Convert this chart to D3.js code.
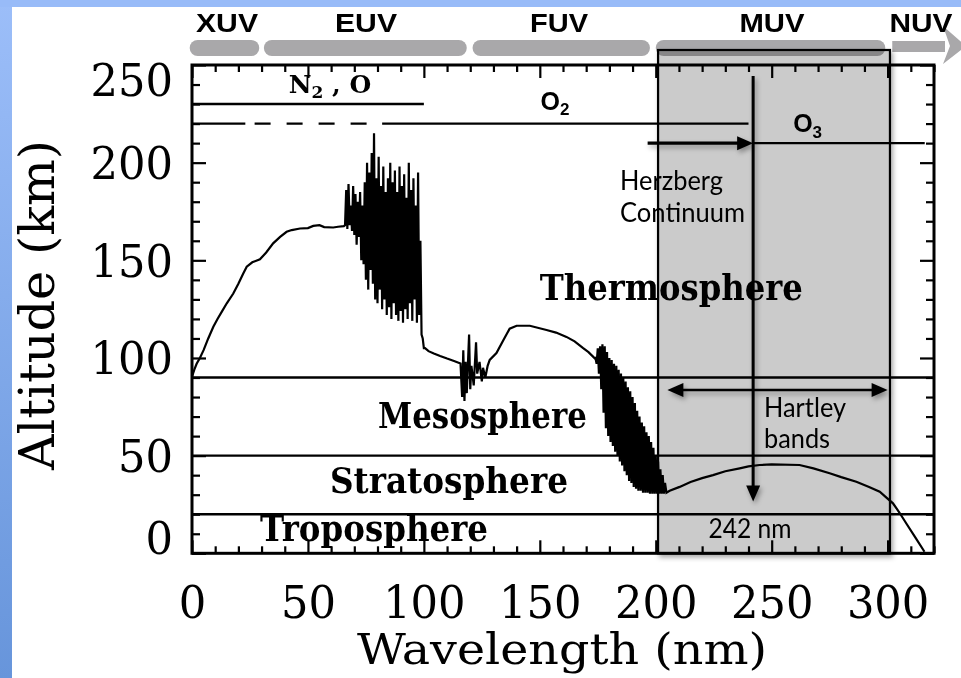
<!DOCTYPE html>
<html><head><meta charset="utf-8">
<script src="https://cdn.jsdelivr.net/npm/d3@7"></script>
<style>body{margin:0;background:#fff}svg{display:block}</style>
</head><body>
<svg id="c" width="961" height="678"></svg>
<script>
// ---- data -------------------------------------------------------------
// UV band names and their wavelength spans (nm)
const bandNames = ["XUV", "EUV", "FUV", "MUV", "NUV"];
const bandFrom  = [-1, 31, 121, 200, 302];
const bandTo    = [29, 118.5, 197.5, 299, 326];

// axis ticks
const xMajor = [0, 50, 100, 150, 200, 250, 300];
const yMajor = [0, 50, 100, 150, 200, 250];

// atmospheric layer boundaries (km) and names
const layerTops  = [90, 50, 20];
const layerNames = ["Thermosphere", "Mesosphere", "Stratosphere", "Troposphere"];

// absorber ranges: altitude (km), start/end wavelength (nm)
const absorbers   = ["N2 , O", "O2", "O3"];
const absorberKm  = [230, 220, 210];
const absorberFrom = [0, 0, 242];
const absorberTo   = [100, 240, 316];
const o2DashedFrom = 23, o2DashedTo = 82;

// Herzberg / Hartley features (nm)
const herzbergNm = 242;
const hartleyFrom = 205, hartleyTo = 300;
const muvBoxFrom = 201, muvBoxTo = 301;

// altitude of unit optical depth vs wavelength [nm, km]
const profileRise = [[0,90.5],[1,94],[2,97],[3.4,100],[5,104],[7,110],[9.2,116],[11,120],[13,124],[15,128],
  [17.8,133],[20,138],[22,143],[23.6,146.7],[26,149],[29.3,150.5],[32,154],[35,158.7],[38,162],[40.8,164.6],
  [43,165.5],[46.6,166.3],[50,166.5],[52.3,167.6],[55,168],[57,167],[60.9,166.8],[63,167.2],[65.5,167.5]];
const profileEUV = [[66,168],[66.5,186],[67,166],[67.5,189],[68,168],[68.5,178],[69,165],[69.5,188],[70,163],
  [70.5,184],[71,158],[71.5,180],[72,162],[72.5,185],[73,150],[73.5,178],[74,148],[74.5,190],[75,140],[75.5,200],
  [76,135],[76.5,195],[77,145],[77.5,205],[78,138],[78.5,215],[79,130],[79.5,192],[80,128],[80.5,203],[81,135],
  [81.5,188],[82,125],[82.5,198],[83,130],[83.5,185],[84,122],[84.5,192],[85,126],[85.5,200],[86,120],[86.5,190],
  [87,128],[87.5,196],[88,122],[88.5,185],[89,119],[89.5,198],[90,124],[90.5,188],[91,118],[91.5,194],[92,125],
  [92.5,182],[93,120],[93.5,200],[94,128],[94.5,186],[95,119],[95.5,192],[96,130],[96.5,178],[97,118],[97.5,195],
  [98,122],[98.5,160],[99,112],[99.5,110],[100,105]];
const profileLyman = [[100.5,105],[102,103.5],[104.3,102.3],[107,101],[110,99.7],[113,98.5],[115.8,97.2],
  [116.5,80],[117,104],[117.5,78],[118,98],[118.5,82],[119.5,112],[120,84],[120.5,96],[121.5,86],[122.5,108],
  [123,92],[124,98],[125,88],[125.5,95],[126.5,90],[127.5,96],[128.4,99],[131.3,102.5],[134.2,109],[137,115],
  [140,116.5],[145.7,116.5],[152.9,114.3],[157,113],[161.5,110.8],[165,108.5],[168.7,105],[171,103],[173.7,99.8]];
const profileSR = [[174,100],[174.5,97],[175,105],[175.5,92],[176,106],[176.5,84],[177,107],[177.5,72],[178,106],
  [178.5,64],[179,103],[179.5,60],[180,100],[180.5,57],[181,99],[181.5,55],[182,97],[182.5,52],[183,96],[183.5,50],
  [184,94],[184.5,47],[185,92],[185.5,45],[186,90],[186.5,42],[187,88],[187.5,40],[188,85],[188.5,37],[189,83],
  [189.5,36],[190,80],[190.5,34],[191,77],[191.5,33],[192,73],[192.5,32],[193,70],[193.5,32],[194,67],[194.5,31],
  [195,65],[195.5,31],[196,62],[196.5,31],[197,60],[197.5,30.5],[198,57],[198.5,30.5],[199,54],[199.5,30.5],
  [200,50],[200.5,30.5],[201,47],[201.5,30.5],[202,43],[202.5,30.5],[203,40],[203.5,30.5],[204,36],[204.6,31]];
const profileHartley = [[206,32],[210.3,34],[215,36.5],[220,38.5],[224.7,40],[230,42],[236.2,43.5],[240,44.5],
  [244.8,45.2],[250,45.5],[262,45.2],[268,43.5],[275,41],[280,39],[286.5,36.6],[292,34],[296.6,31.5],[299,29],
  [302.3,25.6],[305,21],[308,15.4],[312,8],[315.9,0.8]];

// ---- layout -----------------------------------------------------------
const W = 961, H = 678;
const x = d3.scaleLinear().domain([0, 320]).range([192, 934]);
const y = d3.scaleLinear().domain([0, 250]).range([553.3, 65]);
const serif = "'DejaVu Serif', 'Liberation Serif', serif";
const sans = "'Liberation Sans', Arial, sans-serif";
const light = "Lato, 'Open Sans', sans-serif";

const svg = d3.select("#c");
const defs = svg.append("defs");
const grad = defs.append("linearGradient").attr("id", "side")
  .attr("x1", 0).attr("y1", 0).attr("x2", 0).attr("y2", 1);
grad.append("stop").attr("offset", "0%").attr("stop-color", "#9cbef9");
grad.append("stop").attr("offset", "100%").attr("stop-color", "#6795db");
const sh = defs.append("filter").attr("id", "sh")
  .attr("x", "-10%").attr("y", "-10%").attr("width", "130%").attr("height", "130%");
sh.append("feDropShadow").attr("dx", 2).attr("dy", 3).attr("stdDeviation", 2.5)
  .attr("flood-color", "#000").attr("flood-opacity", 0.35);

// slide background
svg.append("rect").attr("width", W).attr("height", H).attr("fill", "#fff");
svg.append("rect").attr("width", 12).attr("height", H).attr("fill", "url(#side)");
svg.append("rect").attr("width", W).attr("height", 7).attr("fill", "#98bbf8");

// MUV shaded box
svg.append("rect")
  .attr("x", x(muvBoxFrom)).attr("y", 50)
  .attr("width", x(muvBoxTo) - x(muvBoxFrom)).attr("height", y(0) - 50)
  .attr("fill", "#cbcbcb").attr("stroke", "#000").attr("stroke-width", 2.2)
  .attr("filter", "url(#sh)");

// band bars
const bands = svg.append("g").style("mix-blend-mode", "multiply");
bandNames.forEach((name, i) => {
  if (name === "NUV") {
    bands.append("rect").attr("x", x(bandFrom[i])).attr("y", 41)
      .attr("width", 945 - x(bandFrom[i])).attr("height", 11).attr("fill", "#a9a8aa");
    bands.append("path").attr("d", "M943,26 L966,46 L943,64 L950,46 Z").attr("fill", "#a9a8aa");
  } else {
    bands.append("rect").attr("x", x(bandFrom[i])).attr("y", 40)
      .attr("width", x(bandTo[i]) - x(bandFrom[i])).attr("height", 16)
      .attr("rx", 8).attr("fill", "#a9a8aa");
  }
});
const bandLabelX = [227, 366, 559, 772, 921];
const bandLabelW = [62, 62, 58, 65, 63];
bandNames.forEach((name, i) => {
  svg.append("text").attr("x", bandLabelX[i]).attr("y", 32)
    .attr("text-anchor", "middle").attr("font-family", sans).attr("font-weight", "bold")
    .attr("font-size", 26).attr("textLength", bandLabelW[i]).attr("lengthAdjust", "spacingAndGlyphs")
    .text(name);
});

// axes (ticks point inward)
const xMinor = d3.range(0, 321, 10).filter(v => v % 50 !== 0);
const yMinor = d3.range(0, 251, 10).filter(v => v % 50 !== 0);
function styleAxis(g) {
  g.select(".domain").remove();
  g.selectAll(".tick line").attr("stroke", "#000").attr("stroke-width", 2.2);
}
const axes = svg.append("g");
[[d3.axisBottom, y(0)], [d3.axisTop, y(250)]].forEach(([fn, pos]) => {
  axes.append("g").attr("transform", `translate(0,${pos})`)
    .call(fn(x).tickValues(xMinor).tickSizeInner(-7).tickSizeOuter(0).tickFormat(""))
    .call(styleAxis);
});
[[d3.axisLeft, x(0)], [d3.axisRight, x(320)]].forEach(([fn, pos]) => {
  axes.append("g").attr("transform", `translate(${pos},0)`)
    .call(fn(y).tickValues(yMinor).tickSizeInner(-8).tickSizeOuter(0).tickFormat(""))
    .call(styleAxis);
});
axes.append("g").attr("transform", `translate(0,${y(250)})`)
  .call(d3.axisTop(x).tickValues(xMajor).tickSizeInner(-13).tickSizeOuter(0).tickFormat(""))
  .call(styleAxis);
axes.append("g").attr("transform", `translate(${x(320)},0)`)
  .call(d3.axisRight(y).tickValues(yMajor).tickSizeInner(-14).tickSizeOuter(0).tickFormat(""))
  .call(styleAxis);
const xAxis = axes.append("g").attr("transform", `translate(0,${y(0)})`)
  .call(d3.axisBottom(x).tickValues(xMajor).tickSizeInner(-13).tickSizeOuter(0).tickPadding(33))
  .call(styleAxis);
const yAxis = axes.append("g").attr("transform", `translate(${x(0)},0)`)
  .call(d3.axisLeft(y).tickValues(yMajor).tickSizeInner(-14).tickSizeOuter(0).tickPadding(19))
  .call(styleAxis);
[xAxis, yAxis].forEach(g => g.selectAll(".tick text")
  .attr("font-family", serif).attr("font-size", 44).attr("fill", "#000")
  .attr("lengthAdjust", "spacingAndGlyphs")
  .attr("textLength", d => String(d).length * 27.5));
// end labels sit a little inside the frame
yAxis.selectAll(".tick text").attr("dy", d => d === 250 ? "0.70em" : d === 0 ? "0em" : "0.36em");

// plot frame
svg.append("rect").attr("x", x(0)).attr("y", y(250))
  .attr("width", x(320) - x(0)).attr("height", y(0) - y(250))
  .attr("fill", "none").attr("stroke", "#000").attr("stroke-width", 3);

// layer boundaries
layerTops.forEach(km => {
  svg.append("line").attr("x1", x(0)).attr("x2", x(320)).attr("y1", y(km)).attr("y2", y(km))
    .attr("stroke", "#000").attr("stroke-width", 2.4);
});

// absorber lines
absorbers.forEach((name, i) => {
  const km = absorberKm[i];
  if (name === "O2") {
    const seg = (a, b, dash) => svg.append("line").attr("x1", x(a)).attr("x2", x(b))
      .attr("y1", y(km)).attr("y2", y(km)).attr("stroke", "#000").attr("stroke-width", 2.4)
      .attr("stroke-dasharray", dash ? "16,16" : null);
    seg(absorberFrom[i], o2DashedFrom, false);
    seg(o2DashedFrom + 4, o2DashedTo, true);
    seg(o2DashedTo, absorberTo[i], false);
  } else {
    svg.append("line").attr("x1", x(absorberFrom[i])).attr("x2", x(absorberTo[i]))
      .attr("y1", y(km)).attr("y2", y(km)).attr("stroke", "#000").attr("stroke-width", 2.4);
  }
});

// absorption-depth profile
const profile = [].concat(profileRise, profileEUV, profileLyman, profileSR, profileHartley);
svg.append("path").datum(profile)
  .attr("d", d3.line().x(d => x(d[0])).y(d => y(d[1])))
  .attr("fill", "none").attr("stroke", "#000").attr("stroke-width", 2.2)
  .attr("stroke-linejoin", "miter");

// absorber labels
function chem(g, base, sub, rest, cx, cy, fam, size) {
  const t = g.append("text").attr("x", cx).attr("y", cy).attr("text-anchor", "middle")
    .attr("font-family", fam).attr("font-weight", "bold").attr("font-size", size);
  t.append("tspan").text(base);
  t.append("tspan").attr("font-size", size * 0.68).attr("dy", size * 0.22).text(sub);
  if (rest) t.append("tspan").attr("dy", -size * 0.22).text(rest);
  return t;
}
chem(svg, "N", "2", " ,  O", x(59.5), y(235.9), serif, 25);
chem(svg, "O", "2", null, x(156.5), y(227), sans, 25);
chem(svg, "O", "3", null, x(265.5), y(215.6), sans, 25);

// arrows
function arrowHead(g, tipX, tipY, dir, len, half) {
  const [dx, dy] = dir;
  const bx = tipX - dx * len, by = tipY - dy * len;
  g.append("path").attr("d",
    `M${tipX},${tipY} L${bx - dy * half},${by + dx * half} L${bx + dy * half},${by - dx * half} Z`)
    .attr("fill", "#000");
}
const arrows = svg.append("g").attr("filter", "url(#sh)");
// 242 nm vertical marker
arrows.append("line").attr("x1", x(herzbergNm)).attr("x2", x(herzbergNm))
  .attr("y1", 76).attr("y2", y(26.5) - 12).attr("stroke", "#000").attr("stroke-width", 3);
arrowHead(arrows, x(herzbergNm), y(26.5), [0, 1], 16, 7);
// Herzberg continuum arrow
arrows.append("line").attr("x1", x(196.5)).attr("x2", x(herzbergNm) - 12)
  .attr("y1", y(210)).attr("y2", y(210)).attr("stroke", "#000").attr("stroke-width", 3.2);
arrowHead(arrows, x(herzbergNm), y(210), [1, 0], 16, 7);
// Hartley bands double arrow
arrows.append("line").attr("x1", x(hartleyFrom) + 10).attr("x2", x(hartleyTo) - 10)
  .attr("y1", y(83.6)).attr("y2", y(83.6)).attr("stroke", "#000").attr("stroke-width", 2.6);
arrowHead(arrows, x(hartleyFrom), y(83.6), [-1, 0], 16, 7);
arrowHead(arrows, x(hartleyTo), y(83.6), [1, 0], 16, 7);

// annotations
function note(txt, nm, km, len) {
  svg.append("text").attr("x", x(nm)).attr("y", y(km))
    .attr("font-family", light).attr("font-size", 26).attr("fill", "#000")
    .attr("textLength", len).attr("lengthAdjust", "spacingAndGlyphs").text(txt);
}
note("Herzberg", 184.6, 185.9, 103);
note("Continuum", 184.6, 169.7, 125);
note("Hartley", 246.7, 69.9, 82);
note("bands", 246.7, 53.9, 66);
note("242 nm", 222.7, 7.8, 83);

// layer names
const layerAt = [[150, 129.6, 263], [80.2, 64.1, 209], [59.5, 30.9, 238], [29.3, 6.3, 228]];
layerNames.forEach((name, i) => {
  const [nm, km, len] = layerAt[i];
  svg.append("text").attr("x", x(nm)).attr("y", y(km))
    .attr("font-family", serif).attr("font-weight", "bold").attr("font-size", 35)
    .attr("textLength", len).attr("lengthAdjust", "spacingAndGlyphs").text(name);
});

// axis titles
svg.append("text").attr("x", 562).attr("y", 664).attr("text-anchor", "middle")
  .attr("font-family", serif).attr("font-size", 43)
  .attr("textLength", 410).attr("lengthAdjust", "spacingAndGlyphs").text("Wavelength (nm)");
svg.append("text").attr("transform", "translate(54,305) rotate(-90)").attr("text-anchor", "middle")
  .attr("font-family", serif).attr("font-size", 48)
  .attr("textLength", 330).attr("lengthAdjust", "spacingAndGlyphs").text("Altitude (km)");
</script>
</body></html>
